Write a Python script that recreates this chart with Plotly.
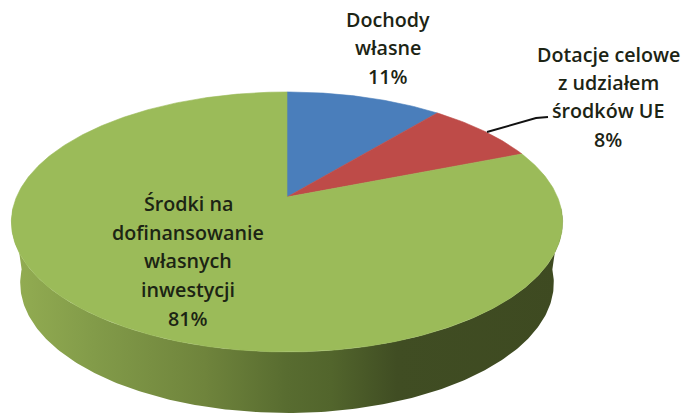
import numpy as np
import plotly.graph_objects as go

# Data
names = ["Dochody własne", "Dotacje celowe z udziałem środków UE",
         "Środki na dofinansowanie własnych inwestycji"]
shares = [11, 8, 81]
colors = ["#4a7ebb", "#be4b48", "#9bbb59"]
label_lines = [["Dochody", "własne", "11%"],
               ["Dotacje celowe", "z udziałem", "środków UE", "8%"],
               ["Środki na", "dofinansowanie", "własnych", "inwestycji", "81%"]]
label_x = [388, 608, 188]
label_y = [[19, 47, 76], [54, 82, 110, 139], [203, 232, 260, 289, 318]]

# Projection of the tilted pie disc onto the page
CX, CY, B, A, K = 287.0, 197.0, 270.5, 125.2, 0.192
DEPTH, SHRINK = 61.0, 0.968


def disc(theta):
    u, v = np.sin(theta), np.cos(theta)
    d = 1 + K * v
    return CX + B * u / d, CY - A * v / d


fig = go.Figure()

# Side wall
t = np.linspace(np.pi / 2 + 0.09, 3 * np.pi / 2 - 0.09, 240)
xt, yt = disc(t)
xb = CX + (xt - CX) * SHRINK
yb = yt + DEPTH
fig.add_trace(go.Scatter(
    x=np.r_[xb, xt[::-1]], y=np.r_[yb, yt[::-1]],
    mode="lines", line=dict(width=0), fill="toself",
    fillgradient=dict(type="horizontal", start=12, stop=562, colorscale=[
        [0, "#93ad52"], [0.15, "#829b49"], [0.35, "#6f843c"], [0.5, "#586c30"],
        [0.58, "#52652c"], [0.7, "#404d23"], [1, "#3e4a21"]]),
    hoverinfo="skip", showlegend=False))

# Top face slices
start = 0.0
total = sum(shares)
for name, s, c in zip(names, shares, colors):
    a0 = 2 * np.pi * start / total
    a1 = 2 * np.pi * (start + s) / total
    th = np.linspace(a0, a1, max(int(s * 6), 30))
    x, y = disc(th)
    fig.add_trace(go.Scatter(
        x=np.r_[CX, x, CX], y=np.r_[CY, y, CY], mode="lines",
        line=dict(width=0.6, color=c), fill="toself", fillcolor=c,
        name=name, hoverinfo="name", showlegend=False))
    start += s

# Leader line for the second slice
fig.add_trace(go.Scatter(x=[487, 536, 548], y=[132, 118, 117], mode="lines",
                         line=dict(color="#111111", width=2),
                         hoverinfo="skip", showlegend=False))

# Labels
for lines, lx, ly in zip(label_lines, label_x, label_y):
    for txt, yy in zip(lines, ly):
        fig.add_annotation(x=lx, y=yy, text=txt, showarrow=False,
                           font=dict(family="Open Sans", size=19.7, color="#1c2414", weight=600),
                           xanchor="center", yanchor="middle")

fig.update_layout(
    width=686, height=413, margin=dict(l=0, r=0, t=0, b=0),
    paper_bgcolor="white", plot_bgcolor="white",
    xaxis=dict(range=[0, 686], visible=False, fixedrange=True),
    yaxis=dict(range=[413, 0], visible=False, fixedrange=True),
)
fig.write_html("out.html", config={"displayModeBar": False},
               post_script="document.body.style.margin='0';document.body.style.overflow='hidden';")
